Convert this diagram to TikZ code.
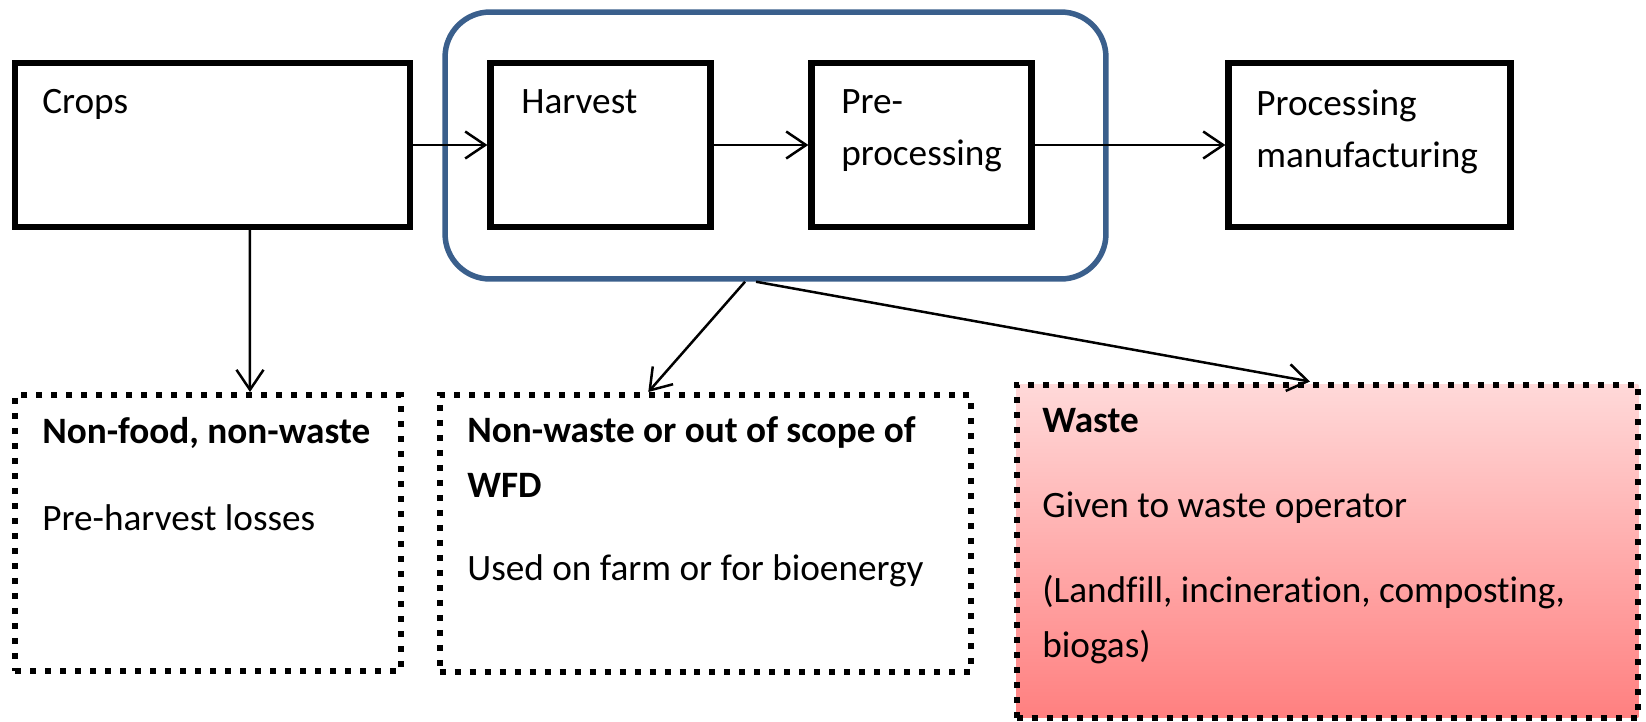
\documentclass[tikz,border=0pt]{standalone}
\usepackage{fontspec}
\setmainfont{Carlito}[Ligatures=NoCommon]
\usepackage{tikz}
\usetikzlibrary{arrows.meta}

\definecolor{chainblue}{RGB}{58,95,140}

\begin{document}
\begin{tikzpicture}[x=0.02cm, y=-0.02cm]
  \tikzstyle{stage}=[draw, line width=0.125cm, minimum height=3.28cm, inner sep=0pt]
  \tikzstyle{outcome}=[draw, line width=0.12cm, dash pattern=on 0.12cm off 0.18cm, inner sep=0pt]
  \tikzstyle{flow}=[line width=0.05cm, -{Straight Barb[length=0.4cm, width=0.54cm]}]
  \tikzstyle{stagetxt}=[anchor=base west, align=left, inner sep=0pt, font=\fontsize{21.2pt}{29.5pt}\selectfont]
  \tikzstyle{outtxt}=[anchor=base west, align=left, inner sep=0pt, font=\fontsize{21.2pt}{31pt}\selectfont]
  \useasboundingbox (0,0) rectangle (1646,721);
  \node[draw=chainblue, line width=0.11cm, rounded corners=0.9cm, minimum width=13.22cm, minimum height=5.34cm, inner sep=0pt] (B_chain) at (775.5,145.5) {};
  \node[stage, minimum width=7.9cm] (B_crops) at (212.5,145) {};
  \node[stage, minimum width=4.4cm] (B_harvest) at (600.5,145) {};
  \node[stage, minimum width=4.4cm] (B_pre) at (921.5,145) {};
  \node[stage, minimum width=5.64cm] (B_proc) at (1369.5,145) {};
  \node[outcome, minimum width=7.71cm, minimum height=5.52cm] (B_nonfood) at (208,533) {};
  \node[outcome, minimum width=10.63cm, minimum height=5.54cm] (B_nonwaste) at (705.25,533.5) {};
  \node[outcome, top color=red!15, bottom color=red!50, minimum width=12.44cm, minimum height=6.67cm] (B_waste) at (1327.5,551.25) {};
  \node[stagetxt] (T_crops) at (42,113) {Crops};
  \node[stagetxt] (T_harvest) at (521,113) {Harvest};
  \node[stagetxt] (T_pre) at (841,165) {Pre-\\processing};
  \node[stagetxt] (T_proc) at (1256,167) {Processing\\manufacturing};
  \node[outtxt] (T_nonfood) at (42,530) {\textbf{Non-food, non-waste}\\[18pt]Pre-harvest losses};
  \node[outtxt] (T_nonwaste) at (467,580) {\textbf{Non-waste or out of scope of}\\\textbf{WFD}\\[16pt]Used on farm or for bioenergy};
  \node[outtxt] (T_waste) at (1042,657) {\textbf{Waste}\\[17.5pt]Given to waste operator\\[17.5pt](Landfill, incineration, composting,\\biogas)};
  \draw[flow] (B_crops) -- (B_harvest);
  \draw[flow] (B_harvest) -- (B_pre);
  \draw[flow] (B_pre) -- (B_proc);
  \draw[flow] ([xshift=0.75cm]B_crops.south) -- ([xshift=0.84cm]B_nonfood.north);
  \draw[flow] ([xshift=-0.61cm]B_chain.south) -- ([xshift=-1.14cm]B_nonwaste.north);
  \draw[flow] ([xshift=-0.39cm]B_chain.south) -- ([xshift=-0.35cm]B_waste.north);
\end{tikzpicture}
\end{document}
